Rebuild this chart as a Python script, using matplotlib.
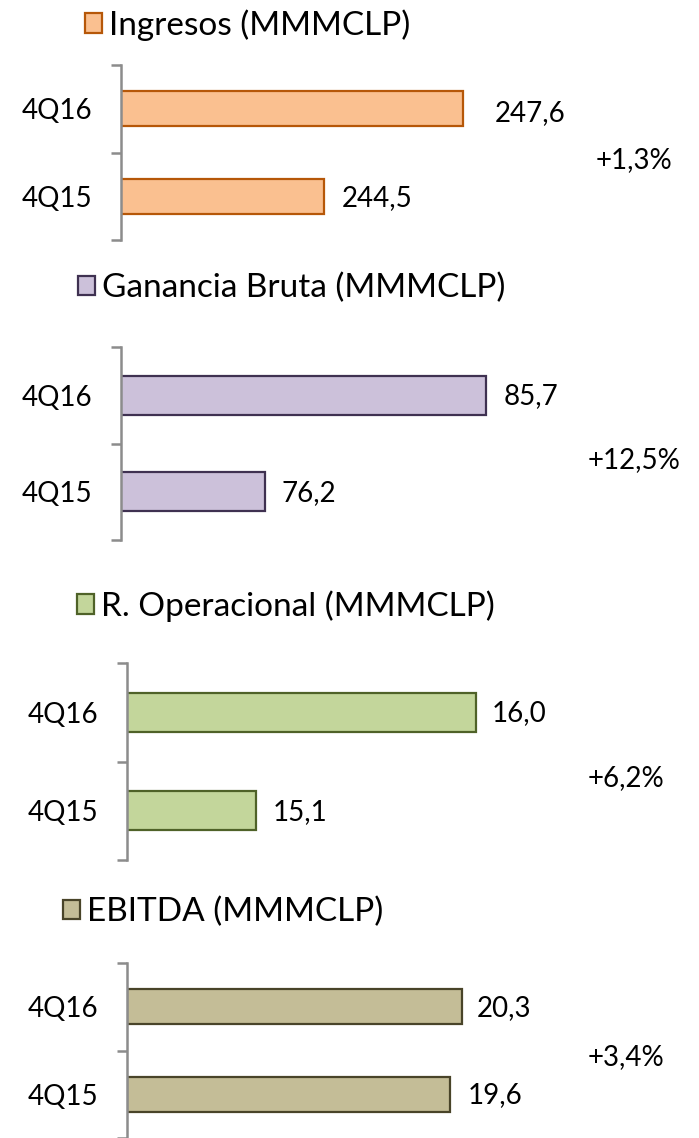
import matplotlib
matplotlib.use("Agg")
import matplotlib.pyplot as plt
from matplotlib.ticker import FixedLocator

plt.rcParams['font.family'] = ['Lato', 'DejaVu Sans']

# ---- data ----
categories = ["4Q15", "4Q16"]
titles = ["Ingresos (MMMCLP)", "Ganancia Bruta (MMMCLP)",
          "R. Operacional (MMMCLP)", "EBITDA (MMMCLP)"]
ingresos = [244.5, 247.6]
ganancia_bruta = [76.2, 85.7]
r_operacional = [15.1, 16.0]
ebitda = [19.6, 20.3]
growth = ["+1,3%", "+12,5%", "+6,2%", "+3,4%"]

series = [ingresos, ganancia_bruta, r_operacional, ebitda]
fills = ["#FAC090", "#CCC1DA", "#C3D69B", "#C4BD97"]
edges = ["#B65708", "#3F3151", "#4F6228", "#494429"]

# ---- layout (pixels) ----
W, H = 699, 1138
fig = plt.figure(figsize=(W / 100, H / 100), dpi=100)

# spine x, top y, bottom y, axis min, px per unit
panels = [
    (121, 65, 240, 240.0, 45.0),
    (121, 347, 540, 70.0, 23.26),
    (127, 663, 860, 14.57, 244.0),
    (127, 963, 1138, 0.0, 16.5),
]
title_pos = [(85, 25), (78, 288), (77, 606), (63, 912)]
growth_pos = [(596, 160), (588, 460), (588, 778), (588, 1057)]
# label offsets (px) for [4Q15, 4Q16]
label_off = [[(18, -2), (32, -4)], [(16, -1), (17, -1)], [(16, -1), (16, -1)], [(17, -1), (15, -1)]]

AXW = 560
for i, (sx, yt, yb, xmin, ppu) in enumerate(panels):
    ax = fig.add_axes([sx / W, 1 - yb / H, AXW / W, (yb - yt) / H])
    vals = series[i]
    bars = ax.barh(range(len(categories)), vals, height=0.4, left=0,
                   color=fills[i], edgecolor=edges[i], linewidth=1.6,
                   label=titles[i], zorder=2)
    ax.set_xlim(xmin, xmin + AXW / ppu)
    ax.set_ylim(-0.5, 1.5)
    for s in ["top", "right", "bottom"]:
        ax.spines[s].set_visible(False)
    ax.spines["left"].set_color("#8C8C8C")
    ax.spines["left"].set_linewidth(1.8)
    ax.spines["left"].set_zorder(3)
    ax.set_xticks([])
    ax.set_yticks(range(len(categories)))
    ax.set_yticklabels(categories, fontsize=20)
    ax.yaxis.set_minor_locator(FixedLocator([-0.5, 0.5, 1.5]))
    ax.tick_params(axis="y", which="major", length=0, pad=21)
    ax.tick_params(axis="y", which="minor", length=7, width=1.8,
                   color="#8C8C8C", direction="out")
    for j, v in enumerate(vals):
        dx, dy = label_off[i][j]
        ax.annotate(f"{v:.1f}".replace(".", ","), xy=(v, j),
                    xytext=(dx * 0.72, dy * 0.72), textcoords="offset points",
                    ha="left", va="center", fontsize=20, color="#000000")
    tx, ty = title_pos[i]
    fig.legend(handles=[bars], labels=[titles[i]], loc="center left",
               bbox_to_anchor=(tx / W, 1 - ty / H), frameon=False,
               fontsize=24, handlelength=0.52, handleheight=0.52,
               handletextpad=0.2, borderpad=0, borderaxespad=0)
    gx, gy = growth_pos[i]
    fig.text(gx / W, 1 - gy / H, growth[i], ha="left", va="center",
             fontsize=20, color="#000000")

fig.savefig("out.png", dpi=100, facecolor="white")
